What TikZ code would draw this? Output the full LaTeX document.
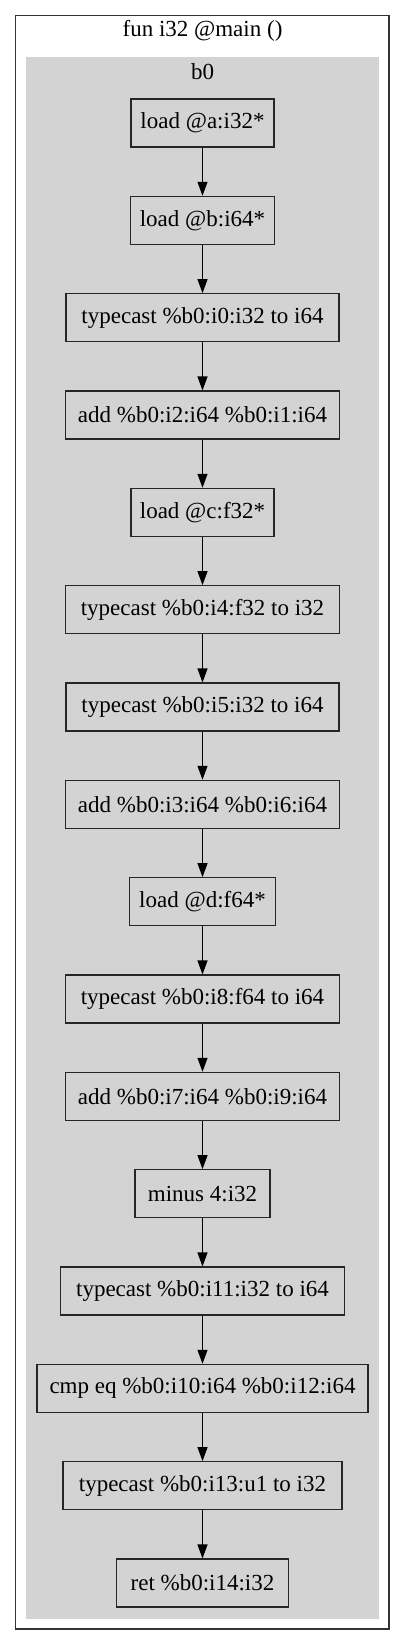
\documentclass[tikz,border=0pt]{standalone}
\usepackage{fontspec}
\setmainfont{Liberation Serif}
\usetikzlibrary{arrows.meta}
\definecolor{clustergray}{HTML}{D3D3D3}
\begin{document}
\begin{tikzpicture}[x=1pt,y=-1pt,
  instr/.style={draw=black!85, line width=1.1pt, fill=clustergray, minimum height=48pt, inner xsep=0pt, inner ysep=0pt, font=\fontsize{23}{27}\selectfont, anchor=center},
  flow/.style={line width=1.1pt, -{Triangle[length=14pt,width=10pt]}},
  lbl/.style={font=\fontsize{23}{27}\selectfont, inner sep=0pt}]
\useasboundingbox (0,0) rectangle (405,1645);
\draw[black!80, line width=1.3pt, fill=white] (15.7,15.7) rectangle (389,1629);
\fill[clustergray] (26,57) rectangle (379,1619);
\node[lbl] (title) at (202.5,31) {fun i32 @main ()};
\node[lbl] (blk) at (202.5,72) {b0};
\node[instr, minimum width=143pt] (n0) at (202.5,123) {load @a:i32*};
\node[instr, minimum width=144pt] (n1) at (202.5,220.33) {load @b:i64*};
\node[instr, minimum width=273pt] (n2) at (202.5,317.67) {typecast \%b0:i0:i32 to i64};
\node[instr, minimum width=274pt] (n3) at (202.5,415) {add \%b0:i2:i64 \%b0:i1:i64};
\node[instr, minimum width=143pt] (n4) at (202.5,512.33) {load @c:f32*};
\node[instr, minimum width=274pt] (n5) at (202.5,609.67) {typecast \%b0:i4:f32 to i32};
\node[instr, minimum width=273pt] (n6) at (202.5,707) {typecast \%b0:i5:i32 to i64};
\node[instr, minimum width=274pt] (n7) at (202.5,804.33) {add \%b0:i3:i64 \%b0:i6:i64};
\node[instr, minimum width=146pt] (n8) at (202.5,901.67) {load @d:f64*};
\node[instr, minimum width=274pt] (n9) at (202.5,999) {typecast \%b0:i8:f64 to i64};
\node[instr, minimum width=274pt] (n10) at (202.5,1096.33) {add \%b0:i7:i64 \%b0:i9:i64};
\node[instr, minimum width=135pt] (n11) at (202.5,1193.67) {minus 4:i32};
\node[instr, minimum width=284pt] (n12) at (202.5,1291) {typecast \%b0:i11:i32 to i64};
\node[instr, minimum width=331pt] (n13) at (202.5,1388.33) {cmp eq \%b0:i10:i64 \%b0:i12:i64};
\node[instr, minimum width=279pt] (n14) at (202.5,1485.67) {typecast \%b0:i13:u1 to i32};
\node[instr, minimum width=172pt] (n15) at (202.5,1583) {ret \%b0:i14:i32};
\foreach \a/\b in {n0/n1,n1/n2,n2/n3,n3/n4,n4/n5,n5/n6,n6/n7,n7/n8,n8/n9,n9/n10,n10/n11,n11/n12,n12/n13,n13/n14,n14/n15}
  \draw[flow] (\a.south) -- (\b.north);
\end{tikzpicture}
\end{document}
